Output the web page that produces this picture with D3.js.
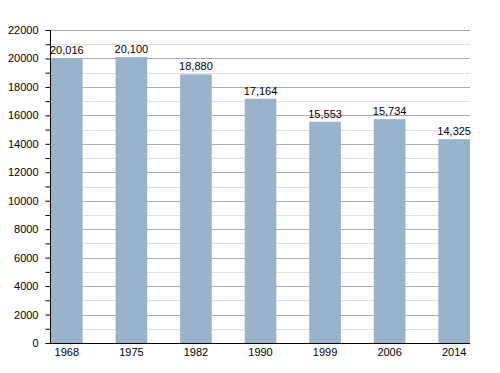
<!DOCTYPE html>
<html>
<head>
<meta charset="utf-8">
<script src="https://cdn.jsdelivr.net/npm/d3@7"></script>
<style>
  body { margin: 0; background: #fff; }
  text { font-family: "Liberation Sans", Arial, sans-serif; font-size: 11px; fill: #000; }
</style>
</head>
<body>
<svg id="chart"></svg>
<script>
//census years and population counts
var years = ["1968", "1975", "1982", "1990", "1999", "2006", "2014"];
var population = [20016, 20100, 18880, 17164, 15553, 15734, 14325];
var majorTicks = [0, 2000, 4000, 6000, 8000, 10000, 12000, 14000, 16000, 18000, 20000, 22000];
var minorTicks = [1000, 3000, 5000, 7000, 9000, 11000, 13000, 15000, 17000, 19000, 21000];

//plot area edges (note: "top" is a reserved window property, so use prefixed names)
var chartWidth = 500;
var chartHeight = 373;
var plotLeft = 51, plotRight = 470, plotTop = 30, plotBottom = 343;

var svg = d3.select("#chart")
  .attr("width", chartWidth)
  .attr("height", chartHeight);

var x = d3.scaleBand()
  .domain(years)
  .range([plotLeft, plotRight])
  .paddingInner(0.51)
  .paddingOuter(0);

var y = d3.scaleLinear()
  .domain([0, 22000])
  .range([plotBottom, plotTop]);

//light minor grid lines first, then the darker major ones
svg.append("g").selectAll("line")
  .data(minorTicks)
  .enter().append("line")
  .attr("x1", plotLeft).attr("x2", plotRight)
  .attr("y1", function (d) { return Math.round(y(d)) + 0.5; })
  .attr("y2", function (d) { return Math.round(y(d)) + 0.5; })
  .style("stroke", "#e0e0e0");

svg.append("g").selectAll("line")
  .data(majorTicks.filter(function (d) { return d > 0; }))
  .enter().append("line")
  .attr("x1", plotLeft).attr("x2", plotRight)
  .attr("y1", function (d) { return Math.round(y(d)) + 0.5; })
  .attr("y2", function (d) { return Math.round(y(d)) + 0.5; })
  .style("stroke", "#aaaaaa");

//bars
svg.append("g").selectAll("rect")
  .data(population)
  .enter().append("rect")
  .attr("x", function (d, i) { return x(years[i]); })
  .attr("width", x.bandwidth())
  .attr("y", function (d) { return y(d); })
  .attr("height", function (d) { return y(0) - y(d); })
  .style("fill", "#99b2cb");

//value labels above the bars
svg.append("g").selectAll("text")
  .data(population)
  .enter().append("text")
  .attr("x", function (d, i) { return x(years[i]) + x.bandwidth() / 2; })
  .attr("y", function (d) { return y(d) - 4; })
  .attr("text-anchor", "middle")
  .text(function (d) { return d3.format(",")(d); });

//y axis with minor tick marks
var yAxis = d3.axisLeft(y)
  .tickValues(majorTicks.concat(minorTicks))
  .tickSize(5)
  .tickFormat(function (d) { return d % 2000 === 0 ? d : ""; });

var yAxisG = svg.append("g")
  .attr("transform", "translate(" + (plotLeft - 0.5) + ",0)")
  .call(yAxis);
yAxisG.select(".domain").remove();
yAxisG.selectAll("line").style("stroke", "#000");
yAxisG.selectAll("text").style("font-size", "11px").attr("x", -12);
yAxisG.append("line")
  .attr("x1", 0).attr("x2", 0)
  .attr("y1", plotTop).attr("y2", plotBottom)
  .style("stroke", "#000");

//x axis
var xAxisG = svg.append("g")
  .attr("transform", "translate(0," + (plotBottom + 0.5) + ")")
  .call(d3.axisBottom(x).tickSize(0).tickPadding(5));
xAxisG.select(".domain").remove();
xAxisG.selectAll("text").style("font-size", "11px");
xAxisG.append("line")
  .attr("x1", plotLeft - 1).attr("x2", plotRight)
  .style("stroke", "#000");
</script>
</body>
</html>
